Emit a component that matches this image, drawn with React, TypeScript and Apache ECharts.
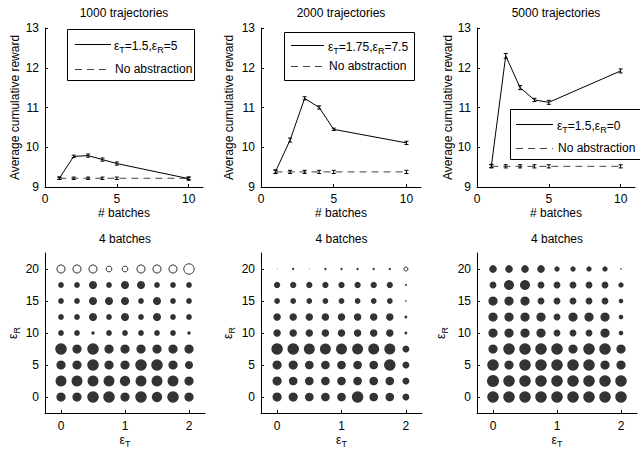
import React, { useEffect, useRef } from "react";
import * as echarts from "echarts";

// ---------- data ----------
const batches = [1, 2, 3, 4, 5, 10];

const abst1000 = [9.22, 9.77, 9.79, 9.69, 9.59, 9.21];
const abst1000Err = [0.03, 0.03, 0.04, 0.04, 0.04, 0.04];
const base1000 = [9.22, 9.22, 9.22, 9.22, 9.22, 9.22];
const base1000Err = [0.03, 0.03, 0.03, 0.03, 0.03, 0.03];

const abst2000 = [9.39, 10.18, 11.23, 11.0, 10.45, 10.11];
const abst2000Err = [0.04, 0.05, 0.04, 0.04, 0.03, 0.04];
const base2000 = [9.38, 9.38, 9.38, 9.38, 9.38, 9.38];
const base2000Err = [0.04, 0.04, 0.04, 0.04, 0.04, 0.04];

const abst5000 = [9.53, 12.3, 11.5, 11.19, 11.13, 11.92];
const abst5000Err = [0.04, 0.06, 0.05, 0.04, 0.05, 0.05];
const base5000 = [9.52, 9.52, 9.52, 9.52, 9.52, 9.52];
const base5000Err = [0.04, 0.04, 0.04, 0.04, 0.04, 0.04];

const trajTitles = ["1000 trajectories", "2000 trajectories", "5000 trajectories"];
const legendLabels = [
  ["1.5", "5"],
  ["1.75", "7.5"],
  ["1.5", "0"],
];
const bubbleTitle = "4 batches";

const epsT = [0, 0.25, 0.5, 0.75, 1, 1.25, 1.5, 1.75, 2];
const epsR = [0, 2.5, 5, 7.5, 10, 12.5, 15, 17.5, 20];

// magnitude per (epsR row, epsT column); negative = hollow marker
const bubbles1000 = [
  [8, 8, 10, 10, 8, 10, 9, 10, 8],
  [9.5, 9.5, 9.5, 9.5, 9, 9.5, 9.5, 9.5, 8],
  [8, 8, 10, 8, 8, 10, 10, 8, 7],
  [10, 8, 10, 8, 8, 8, 8, 8, 8],
  [5, 5, 3, 5, 5, 5, 5, 5, 3],
  [5, 5, 7, 5, 7, 5, 7, 5, 5],
  [5, 5, 7, 7, 7, 5, 7, 5, 5],
  [5, 5, 7, 5, 7, 7, 5, 5, 5],
  [-7, -7, -7, -5, -5, -7, -7, -7, -9],
];
const bubbles2000 = [
  [8, 8, 7.5, 7.5, 7.5, 10, 7.5, 7.5, 6],
  [8, 7.5, 7.5, 7.5, 7.5, 7.5, 7.5, 7.5, 6],
  [8, 8, 7.5, 7.5, 7.5, 7.5, 7.5, 10, 6],
  [10, 10, 9.5, 9.5, 9.5, 9.5, 9.5, 9.5, 6],
  [6.5, 6.5, 6.5, 6.5, 6.5, 6.5, 6.5, 6.5, 2.5],
  [6.5, 6.5, 6.5, 6.5, 6.5, 6.5, 6.5, 6.5, 2.5],
  [5, 5, 5, 5, 5, 5, 5, 5, 1.3],
  [5.5, 5.5, 5.5, 5.5, 5.5, 5.5, 5.5, 5.5, 1.7],
  [0.7, 2, 0.7, 2, 2, 2, 2, 2, -3.5],
];
const bubbles5000 = [
  [10, 10, 10, 10, 10, 10, 10, 10, 10],
  [10.5, 10, 10, 10, 10, 10, 10, 10, 10],
  [10, 8, 10, 10, 10, 10, 10, 8, 8],
  [8, 10, 10, 10, 10, 8, 10, 10, 8],
  [8, 8, 8, 8, 6, 6, 6, 8, 4],
  [8, 8, 8, 8, 6, 8, 8, 8, 4],
  [8, 8, 8, 6, 6, 6, 6, 6, 4],
  [6, 8.7, 8.7, 6, 6, 6, 6, 6, 4.7],
  [6.7, 6.7, 6.7, 6.7, 4.7, 4.7, 4.7, 4.7, 1.3],
];

const topXTicks = [0, 5, 10];
const botXTicks = [0, 1, 2];
const botYTicks = [0, 5, 10, 15, 20];

// ---------- layout / style ----------
const FONT = "Liberation Sans, Arial, Helvetica, sans-serif";
const BUBBLE_PX = 1.15;

const grids = [
  { left: 45, top: 28, width: 158, height: 159 },
  { left: 261, top: 28, width: 160, height: 159 },
  { left: 477, top: 28, width: 158, height: 159 },
  { left: 45, top: 253, width: 160, height: 160 },
  { left: 261, top: 253, width: 161, height: 160 },
  { left: 477, top: 253, width: 160, height: 160 },
];
const topYNameGap = [24, 26, 18];
const botYNameGap = [24, 25, 28];

const baseAxis = {
  type: "value" as const,
  axisLine: { show: true, onZero: false, lineStyle: { color: "#000", width: 1 } },
  splitLine: { show: false },
  nameTextStyle: { color: "#000", fontSize: 12, fontFamily: FONT },
};

const richSub = {
  a: { fontSize: 12, fontFamily: FONT, color: "#000" },
  s: { fontSize: 9, fontFamily: FONT, color: "#000", padding: [7, 0, 0, 0] },
};

function legendText(t: string, r: string) {
  return `{a|ε}{s|T}{a|=${t},ε}{s|R}{a|=${r}}`;
}

function errRender(params: any, api: any) {
  const x = api.value(0);
  const y = api.value(1);
  const e = api.value(2);
  const t = api.coord([x, y + e]);
  const b = api.coord([x, y - e]);
  const w = 2;
  const st = { stroke: "#000", lineWidth: 1 };
  return {
    type: "group",
    children: [
      { type: "line", shape: { x1: t[0], y1: t[1], x2: b[0], y2: b[1] }, style: st },
      { type: "line", shape: { x1: t[0] - w, y1: t[1], x2: t[0] + w, y2: t[1] }, style: st },
      { type: "line", shape: { x1: b[0] - w, y1: b[1], x2: b[0] + w, y2: b[1] }, style: st },
    ],
  };
}

export default function App() {
  const ref = useRef<HTMLDivElement>(null);

  useEffect(() => {
    if (!ref.current) return;
    const chart = echarts.init(ref.current, undefined, { renderer: "svg" });

    const xAxis: any[] = [];
    const yAxis: any[] = [];
    for (let i = 0; i < 3; i++) {
      xAxis.push({
        ...baseAxis,
        gridIndex: i,
        min: 0,
        max: 11,
        axisTick: { show: true, inside: true, length: 3, customValues: topXTicks, lineStyle: { color: "#000" } },
        axisLabel: { color: "#000", fontSize: 12, fontFamily: FONT, margin: 6, customValues: topXTicks },
        name: "# batches",
        nameLocation: "middle",
        nameGap: 20,
      });
      yAxis.push({
        ...baseAxis,
        gridIndex: i,
        min: 9,
        max: 13,
        interval: 1,
        axisTick: { show: true, inside: true, length: 3, lineStyle: { color: "#000" } },
        axisLabel: { color: "#000", fontSize: 12, fontFamily: FONT, margin: 6 },
        name: "Average cumulative reward",
        nameLocation: "middle",
        nameGap: topYNameGap[i],
      });
    }
    for (let i = 0; i < 3; i++) {
      xAxis.push({
        ...baseAxis,
        gridIndex: 3 + i,
        min: -0.25,
        max: 2.25,
        axisTick: { show: true, inside: true, length: 3, customValues: botXTicks, lineStyle: { color: "#000" } },
        axisLabel: { color: "#000", fontSize: 12, fontFamily: FONT, margin: 7, customValues: botXTicks },
        name: "{a|ε}{s|T}",
        nameLocation: "middle",
        nameGap: 19,
        nameTextStyle: { rich: richSub },
      });
      yAxis.push({
        ...baseAxis,
        gridIndex: 3 + i,
        min: -2.5,
        max: 22.5,
        axisTick: { show: true, inside: true, length: 3, customValues: botYTicks, lineStyle: { color: "#000" } },
        axisLabel: { color: "#000", fontSize: 12, fontFamily: FONT, margin: 6, customValues: botYTicks },
        name: "{a|ε}{s|R}",
        nameLocation: "middle",
        nameGap: botYNameGap[i],
        nameTextStyle: { rich: richSub },
      });
    }

    const lineSets = [
      [abst1000, abst1000Err, base1000, base1000Err],
      [abst2000, abst2000Err, base2000, base2000Err],
      [abst5000, abst5000Err, base5000, base5000Err],
    ];
    const series: any[] = [];
    lineSets.forEach(([a, ae, b, be], i) => {
      series.push({
        type: "line",
        xAxisIndex: i,
        yAxisIndex: i,
        data: batches.map((x, k) => [x, a[k]]),
        symbol: "none",
        lineStyle: { color: "#000", width: 1 },
        silent: true,
        z: 3,
      });
      series.push({
        type: "line",
        xAxisIndex: i,
        yAxisIndex: i,
        data: batches.map((x, k) => [x, b[k]]),
        symbol: "none",
        lineStyle: { color: "#444", width: 1, type: [7, 5] },
        silent: true,
        z: 2,
      });
      series.push({
        type: "custom",
        xAxisIndex: i,
        yAxisIndex: i,
        renderItem: errRender,
        encode: { x: 0, y: 1 },
        data: batches.map((x, k) => [x, a[k], ae[k]]),
        silent: true,
        z: 4,
      });
      series.push({
        type: "custom",
        xAxisIndex: i,
        yAxisIndex: i,
        renderItem: errRender,
        encode: { x: 0, y: 1 },
        data: batches.map((x, k) => [x, b[k], be[k]]),
        silent: true,
        z: 4,
      });
    });

    [bubbles1000, bubbles2000, bubbles5000].forEach((grid, i) => {
      const data: any[] = [];
      grid.forEach((row, r) => {
        row.forEach((v, c) => {
          data.push({
            value: [epsT[c], epsR[r], v],
            symbolSize: Math.abs(v) * BUBBLE_PX,
            itemStyle: v < 0 ? { color: "#fff", borderColor: "#000", borderWidth: 1 } : { color: "#000" },
          });
        });
      });
      series.push({
        type: "scatter",
        xAxisIndex: 3 + i,
        yAxisIndex: 3 + i,
        data,
        symbol: "circle",
        silent: true,
      });
    });

    const graphic: any[] = [];
    // titles
    grids.forEach((g, i) => {
      graphic.push({
        type: "text",
        x: g.left + g.width / 2,
        y: i < 3 ? 13 : 239,
        style: {
          text: i < 3 ? trajTitles[i] : bubbleTitle,
          fontSize: 12,
          fontFamily: FONT,
          fill: "#000",
          textAlign: "center",
          textVerticalAlign: "middle",
        },
      });
    });
    // legends
    const legendBoxes = [
      { x: 67, y: 29, w: 127, h: 51, l1: 44, l2: 69, sx: 75, ex: 111, tx: 114 },
      { x: 284, y: 32, w: 130, h: 48, l1: 45, l2: 66, sx: 291, ex: 324, tx: 328 },
      { x: 510, y: 109, w: 140, h: 50, l1: 124, l2: 148, sx: 516, ex: 553, tx: 557 },
    ];
    legendBoxes.forEach((b, i) => {
      graphic.push({
        type: "rect",
        shape: { x: b.x + 0.5, y: b.y + 0.5, width: b.w, height: b.h },
        style: { fill: "#fff", stroke: "#000", lineWidth: 1 },
        z: 100,
      });
      graphic.push({
        type: "line",
        shape: { x1: b.sx, y1: b.l1 + 0.5, x2: b.ex, y2: b.l1 + 0.5 },
        style: { stroke: "#000", lineWidth: 1 },
        z: 101,
      });
      graphic.push({
        type: "line",
        shape: { x1: b.sx, y1: b.l2 + 0.5, x2: b.ex, y2: b.l2 + 0.5 },
        style: { stroke: "#444", lineWidth: 1, lineDash: [7, 5] },
        z: 101,
      });
      graphic.push({
        type: "text",
        x: b.tx,
        y: b.l1 + 2,
        style: {
          text: legendText(legendLabels[i][0], legendLabels[i][1]),
          rich: richSub,
          fontSize: 12,
          fontFamily: FONT,
          fill: "#000",
          textAlign: "left",
          textVerticalAlign: "middle",
        },
        z: 102,
      });
      graphic.push({
        type: "text",
        x: b.tx + 1,
        y: b.l2,
        style: {
          text: "No abstraction",
          fontSize: 12,
          fontFamily: FONT,
          fill: "#000",
          textAlign: "left",
          textVerticalAlign: "middle",
        },
        z: 102,
      });
    });

    chart.setOption({
      animation: false,
      backgroundColor: "#fff",
      textStyle: { fontFamily: FONT },
      grid: grids.map((g) => ({ ...g, containLabel: false })),
      xAxis,
      yAxis,
      series,
      graphic,
    });

    return () => chart.dispose();
  }, []);

  return (
    <div
      ref={ref}
      style={{ position: "fixed", left: 0, top: 0, width: 640, height: 449, background: "#fff" }}
    />
  );
}
